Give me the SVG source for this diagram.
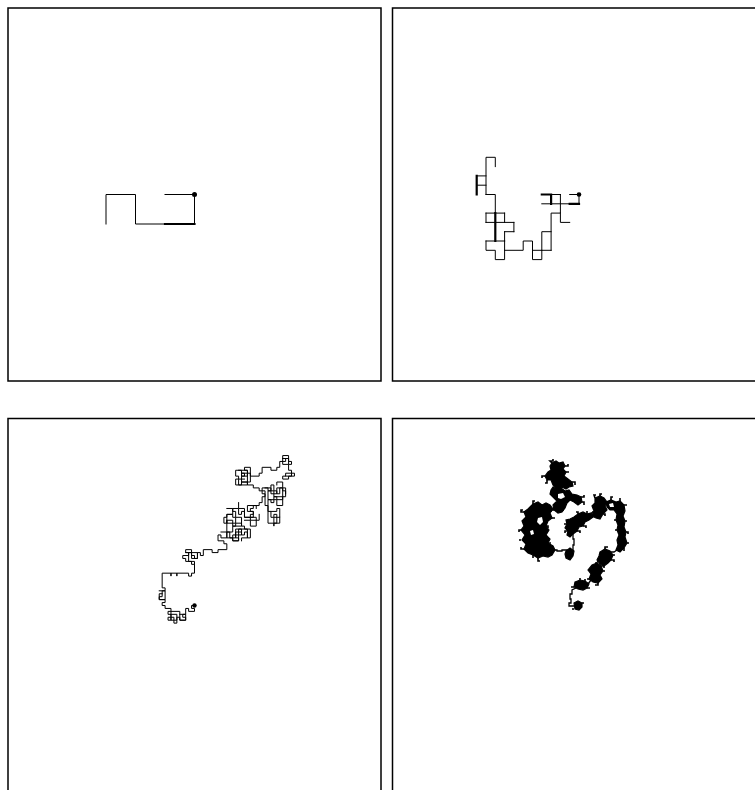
<svg xmlns="http://www.w3.org/2000/svg" width="755" height="790" viewBox="0 0 755 790">
<style>
.frame{fill:none;stroke:#000;stroke-width:1.5}
.walk{fill:none;stroke:#000;stroke-width:1;stroke-linecap:square;stroke-linejoin:miter}
.thick{stroke-width:2.2}
.blob{fill:#000;stroke:#000;stroke-width:1.2;stroke-linejoin:miter}
.line4{fill:none;stroke:#000;stroke-width:1.3}
.fuzz{fill:none;stroke:#000;stroke-width:1.6}
.hole{fill:#fff}
.dot{fill:#000}
</style>
<rect width="755" height="790" fill="#fff"/>
<g id="panel-1">
<rect class="frame" x="8" y="8" width="373" height="373"/>
<g transform="translate(194.5 194.5) scale(29.5)">
<path class="walk" vector-effect="non-scaling-stroke" d="M0 0H-1M0 0V1H-2V0H-3V1"/>
<path class="walk thick" vector-effect="non-scaling-stroke" d="M0 1H-1"/>
</g>
<circle class="dot" cx="194.5" cy="194.5" r="2.5"/>
</g>
<g id="panel-2">
<rect class="frame" x="392.5" y="8" width="373" height="373"/>
<g transform="translate(579 194.5) scale(9.3)">
<path class="walk" vector-effect="non-scaling-stroke" d="M-10 0V-4H-9V-3M-11 -2H-10M-11 -1H-10M-10 0H-9V2M-10 2H-8M-10 2V3M-8 2V3M-10 3H-7M-7 3V4M-8 4H-7M-8 4V5M-10 5H-8M-10 5V6H-9V7H-8V5M-8 6H-6V5H-5V7H-4V6M-5 6H-3M-4 6V4H-3M-3 6V2H-2V0M-2 2V3H-1M-4 0H-2M-4 1H-1M-1 0H0V1"/>
<path class="walk thick" vector-effect="non-scaling-stroke" d="M-11 -2V0M-9 2V5M-4 0H-3M-3 0V1M-1 1H0"/>
</g>
<circle class="dot" cx="579" cy="194.5" r="2.3"/>
</g>
<g id="panel-3">
<rect class="frame" x="8" y="418.5" width="373" height="373"/>
<g transform="translate(194.5 605.5) scale(2.94)">
<path class="walk" vector-effect="non-scaling-stroke" d="M0 0h-1v1h1v1h-2v-1h-1v2h-1v1h1v1h-2v-1h-1v2h-1v-2h-1v1h-1v-1h1v-1h-1v-1h1v-1h-2v-1h-1v-1h1v-1h-2v-1h1v-2h1v-1h-1v-5h3v1v-1h2v1v-1h4v1h1v-1h1v-3h-1v-1h-2v-1h-1v-1h2v-1h-1v-1h2v2h1v1h1v-2h1v1h1v-2h3v1h2v-1h3v-2h-1v-1h-2v-2h1v1h2v-2h1v2h1v1h2v-1h-1v-2h2v1h1v-1h1v2h1v-3h-2v-1h-1v-1h-2v1h-1v-2h-2v1h-1v-2h1v-1h2v1h1v-2h-1v-1h2v2h1v-1h1v2h2v-1h1v-1h-1v-1h1v-1h2v-1h1v-2h1v-1h-1v-2h2v1h1v-2h1v2h1v1h1v-2h1v1h1v2h-1v1h-2v-1h-1v2h-1v-1h-1v4h1v2h1v-1h1v3h-1v1v-1h-2v-6h-1v-5h-2v-1h-2v-1h-2v-1h-2v1h-2v-2h1v-1h-1v-2h2v2h1v-1h-1h2v-1h-1v-1h2v3h3v-1h1v-2h3v1h2v-1h1v-2h2v-1h-1v-1h2v2h1v1h-1v2h1v1h-2v1h-1v1h2v-1h2v-1h-1"/>
<path class="walk" vector-effect="non-scaling-stroke" d="M15 -46h3v2h-2v2h3v-3h-1v4h-3v-2h2M24 -40h2v2h2v-2h2v3h-3v-2h-2v3h3v2h2v-3M28 -41v-1h2v2h1v2M9 -25h2v2h3v-3h2v2h-3v2h2v-4h3v3h-2v1M11 -33h2v2h-2v3h3v-2h2v3h-3v2h-2v-4M15 -35v2h2v3h3v-2h-2v-2h3v1M17 -29h2v2h2v-3h-2v1h3v-2M26 -32h2v-1h1v3h-2v2h2v-2M-3 -18h2v2h2v-2h-3v3h2v1M-8 3h2v2h-2v-3h3v3h2v-2h-2M-11 -4h-1v2h2v-3h-2M30 -50h2v2h-2v-2M31 -44h2v-1"/>
</g>
<circle class="dot" cx="194.5" cy="605.5" r="2.2"/>
</g>
<g id="panel-4">
<rect class="frame" x="392.5" y="418.5" width="373" height="373"/>
<polygon class="blob" points="552,463 556,461 559,463 563,462 565,466 563,469 566,472 564,476 568,479 572,482 573,486 569,487 566,489 562,487 560,491 556,489 553,485 551,480 547,480 545,476 548,472 551,470 550,466"/>
<polygon class="blob" points="553,487 557,490 561,488 565,491 569,490 572,494 577,495 581,497 582,502 578,505 574,502 570,500 567,503 565,508 562,512 558,513 554,510 553,505 557,501 553,497 550,494 551,490"/>
<polygon class="hole" points="558,494 563,493 565,497 561,499 558,498"/>
<polygon class="blob" points="533,504 538,502 542,505 546,503 550,505 553,509 550,513 552,518 548,521 546,526 549,530 546,535 550,539 548,543 553,546 555,550 552,555 548,557 543,556 538,558 533,555 528,553 524,549 526,544 522,540 525,535 521,530 524,526 522,521 526,517 524,512 528,509 531,506"/>
<polygon class="hole" points="538,518 542,517 543,522 540,525 537,522"/>
<polygon class="hole" points="530,531 533,530 534,534 531,535"/>
<path class="line4" d="M553 550h4v1h5v-1h5v1h4M573 550v-5h1v-6h-1v-6"/>
<polygon class="blob" points="566,551 570,548 574,551 573,556 570,560 566,558 565,554"/>
<polygon class="blob" points="578,514 583,512 587,514 591,513 593,517 589,520 585,522 583,526 579,527 577,531 573,534 570,537 567,535 568,531 565,528 567,524 566,520 570,519 574,517"/>
<polygon class="blob" points="595,498 600,496 604,498 607,502 605,506 607,510 603,514 600,519 596,518 592,516 594,511 592,506 595,503"/>
<polygon class="blob" points="606,502 611,500 616,502 620,501 624,505 625,511 623,516 625,521 624,527 626,532 625,537 627,543 624,548 620,552 616,550 618,545 617,540 619,535 617,530 618,525 616,520 617,514 614,510 610,510 607,507"/>
<polygon class="hole" points="609,504 613,503 614,507 610,507"/>
<path class="line4" d="M617 550l-3 2h-3M598 561l-2 3M591 580l-3 4M576 588l-4 2v4h-2v5h1v4h-2v3h5"/>
<polygon class="blob" points="600,552 605,549 610,551 613,555 611,560 608,563 604,566 600,564 597,560 599,556"/>
<polygon class="blob" points="592,565 597,563 601,566 603,571 600,575 602,579 598,583 593,582 589,579 591,574 588,570"/>
<polygon class="blob" points="575,582 580,580 585,581 589,584 587,588 583,590 578,589 574,587"/>
<polygon class="blob" points="574,603 578,601 582,603 582,607 579,610 575,609"/>
<path class="fuzz" d="M552 463l-2-2h3v-2M565 466h3v-2M545 476h-3v2M572 482h3v3M566 472h3M547 480v3h-2M560 491v2M581 497h3v-2M582 502h2v3M565 508h-2v3M554 510h-3v2M522 530h-3v2M524 512h-3v-2h2M533 504v-3h2M553 509h3v2M538 558v3h2M524 549h-3v-2M521 540h-2M548 543h3M552 518h3M546 526h2v2M533 555v3M578 514v-2h-2M587 514v-3M591 513h2v-2M567 524h-3M568 531h-3v2M577 531h3v2M583 526h3v2M595 498l-1-3h2M600 496v-2h2M607 502h2M603 514h2v2M611 500v-3h2M620 501v-3M624 505h3M625 521h2M626 532h2v2M627 543h2M624 548v3M616 520h-2M617 530h-2M605 549v-2h3M613 555h2M611 560h3v2M604 566v2M597 563h-2M601 566h3M603 571h2M589 579h-2M598 583v2h-3M585 581v-2M580 580v-2M587 588h3M574 587h-3M582 603h2M574 609h-2"/>
<circle class="dot" cx="578" cy="605" r="2"/>
</g>
</svg>
